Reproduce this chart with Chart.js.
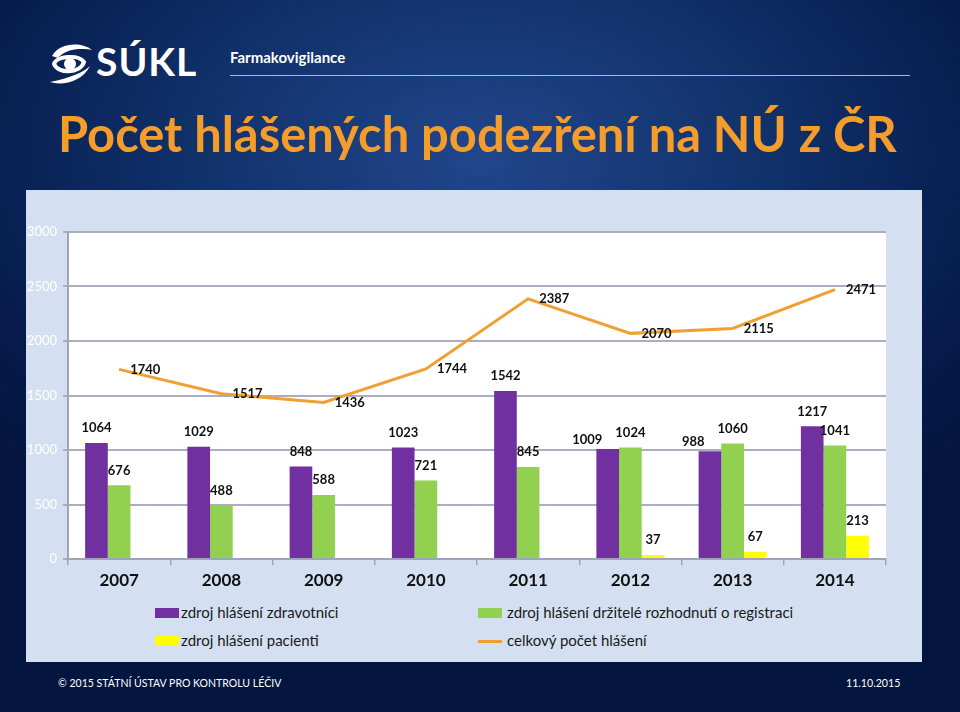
<!DOCTYPE html>
<html lang="cs">
<head>
<meta charset="utf-8">
<script src="https://cdn.jsdelivr.net/npm/chart.js@4.4.1/dist/chart.umd.min.js"></script>
<style>
  body {
    margin: 0;
    width: 960px;
    height: 712px;
    overflow: hidden;
    position: relative;
    font-family: Lato, "Open Sans", sans-serif;
    background: radial-gradient(ellipse 70% 60% at 50% 22%, #21468c 0%, #103068 45%, #061b4c 80%, #04163f 100%);
  }
  .logo-text { position: absolute; left: 96px; top: 38px; color: #fff; font: bold 39px Lato, sans-serif; letter-spacing: 1px; }
  .logo-icon { position: absolute; left: 48px; top: 42px; }
  .section { position: absolute; left: 230px; top: 48px; color: #fff; font: bold 15px Lato, sans-serif; }
  .rule { position: absolute; left: 230px; top: 75px; width: 680px; height: 1px; background: #a7b8de; }
  #title { position: absolute; left: 58px; top: 104px; color: #f59d2a; font: bold 42px Lato, sans-serif; white-space: nowrap; }
  .panel { position: absolute; left: 26px; top: 190px; width: 896px; height: 472px; background: #d4e0f1; }
  #myChart { position: absolute; left: 0; top: 0; }
  .leg { position: absolute; font-size: 15px; color: #1a1a1a; white-space: nowrap; }
  .sw { position: absolute; width: 24px; height: 10px; }
  .footer { position: absolute; top: 675px; color: #fff; font: 12px Lato, sans-serif; white-space: nowrap; }
</style>
</head>
<body>
<svg class="logo-icon" width="46" height="44" viewBox="0 0 46 44">
  <path d="M4 14 C 12 0, 34 0, 44 8 C 34 6, 18 6, 10 16 Z" fill="#fff"/>
  <path d="M2 40 C 14 44, 34 40, 42 24 C 36 30, 22 36, 2 40 Z" fill="#fff"/>
  <path d="M6 22 C 8 14, 30 12, 36 20 C 32 32, 10 32, 6 22 Z" fill="none" stroke="#fff" stroke-width="4"/>
  <circle cx="22" cy="22" r="6" fill="#fff"/>
</svg>
<div class="logo-text">SÚKL</div>
<div class="section">Farmakovigilance</div>
<div class="rule"></div>
<div id="title">Počet hlášených podezření na NÚ z ČR</div>

<div class="panel">
  <canvas id="myChart" width="896" height="410"></canvas>
  <div class="sw" style="left:129px; top:418px; background:#7030a0"></div>
  <div class="leg" style="left:155px; top:413px">zdroj hlášení zdravotníci</div>
  <div class="sw" style="left:452px; top:418px; background:#92d050"></div>
  <div class="leg" style="left:481px; top:413px">zdroj hlášení držitelé rozhodnutí o registraci</div>
  <div class="sw" style="left:129px; top:446px; background:#ffff00"></div>
  <div class="leg" style="left:155px; top:441px">zdroj hlášení pacienti</div>
  <div class="sw" style="left:452px; top:450px; height:3px; background:#f0a033"></div>
  <div class="leg" style="left:481px; top:441px">celkový počet hlášení</div>
</div>

<div class="footer" id="copy" style="left:58px">© 2015 STÁTNÍ ÚSTAV PRO KONTROLU LÉČIV</div>
<div class="footer" id="date" style="left:846px">11.10.2015</div>

<script>
const years = ["2007", "2008", "2009", "2010", "2011", "2012", "2013", "2014"];
const healthcare = [1064, 1029, 848, 1023, 1542, 1009, 988, 1217];
const holders = [676, 488, 588, 721, 845, 1024, 1060, 1041];
const patients = [null, null, null, null, null, 37, 67, 213];
const total = [1740, 1517, 1436, 1744, 2387, 2070, 2115, 2471];

// fit text widths to the slide (the original uses a narrower font)
const fitWidth = (id, w) => {
  const el = document.getElementById(id);
  el.style.transformOrigin = "left center";
  el.style.transform = "scaleX(" + (w / el.offsetWidth) + ")";
};
const title = document.getElementById("title");
title.style.fontSize = (42 * 839 / title.offsetWidth) + "px";
fitWidth("copy", 223);
fitWidth("date", 54);

const ctx = document.getElementById("myChart");

const plotBackground = {
  id: "plotBackground",
  beforeDraw(chart) {
    const a = chart.chartArea;
    chart.ctx.save();
    chart.ctx.fillStyle = "#ffffff";
    chart.ctx.fillRect(a.left, a.top, a.right - a.left, a.bottom - a.top);
    chart.ctx.restore();
  },
};

const valueLabels = {
  id: "valueLabels",
  afterDatasetsDraw(chart) {
    const c = chart.ctx;
    c.save();
    c.font = "bold 13px Lato";
    c.fillStyle = "#111";
    c.textBaseline = "middle";
    const purple = chart.getDatasetMeta(1).data;
    const green = chart.getDatasetMeta(2).data;
    chart.data.datasets.forEach((ds, i) => {
      chart.getDatasetMeta(i).data.forEach((el, j) => {
        const v = ds.data[j];
        if (v == null) return;
        if (ds.type === "line") {
          c.textAlign = "left";
          c.fillText(v, el.x + 11, el.y);
          return;
        }
        let x = el.x;
        let y = el.y - 15;
        // move the purple label aside when it would hit the green one
        if (i === 1 && Math.abs(purple[j].y - green[j].y) < 12) {
          const gw = c.measureText(holders[j]).width;
          const pw = c.measureText(v).width;
          x = green[j].x - gw / 2 - 13 - pw / 2;
          y = el.y - 9;
        }
        c.textAlign = "center";
        c.fillText(v, x, y);
      });
    });
    c.restore();
  },
};

const myChart = new Chart(ctx, {
  data: {
    labels: years,
    datasets: [
      {
        type: "line",
        label: "celkový počet hlášení",
        data: total,
        borderColor: "#f0a033",
        borderWidth: 3,
        pointRadius: 0,
        tension: 0,
        order: 0,
      },
      {
        type: "bar",
        label: "zdroj hlášení zdravotníci",
        data: healthcare,
        backgroundColor: "#7030a0",
        order: 1,
      },
      {
        type: "bar",
        label: "zdroj hlášení držitelé rozhodnutí o registraci",
        data: holders,
        backgroundColor: "#92d050",
        order: 1,
      },
      {
        type: "bar",
        label: "zdroj hlášení pacienti",
        data: patients,
        backgroundColor: "#ffff00",
        order: 1,
      },
    ],
  },
  options: {
    responsive: false,
    animation: false,
    datasets: { bar: { categoryPercentage: 0.665, barPercentage: 1 } },
    layout: { padding: { top: 42, right: 36, left: 0, bottom: 0 } },
    plugins: { legend: { display: false }, tooltip: { enabled: false } },
    scales: {
      x: {
        grid: { offset: true, drawOnChartArea: false, tickLength: 6, color: "#9ea5ba", lineWidth: 1.5 },
        border: { color: "#9ea5ba", width: 2 },
        ticks: { color: "#111", padding: 5, font: { family: "Lato", size: 17, weight: "bold" } },
        afterFit: (s) => { s.height = 41; },
      },
      y: {
        min: 0,
        max: 3000,
        ticks: {
          stepSize: 500,
          color: "#ffffff",
          padding: 6,
          font: { family: "Lato", size: 13 },
          callback: (v) => String(v),
        },
        grid: { color: "#a9aec0", lineWidth: 2, tickLength: 5 },
        border: { color: "#9ea5ba", width: 2 },
        afterFit: (s) => { s.width = 42; },
      },
    },
  },
  plugins: [plotBackground, valueLabels],
});
</script>
</body>
</html>
